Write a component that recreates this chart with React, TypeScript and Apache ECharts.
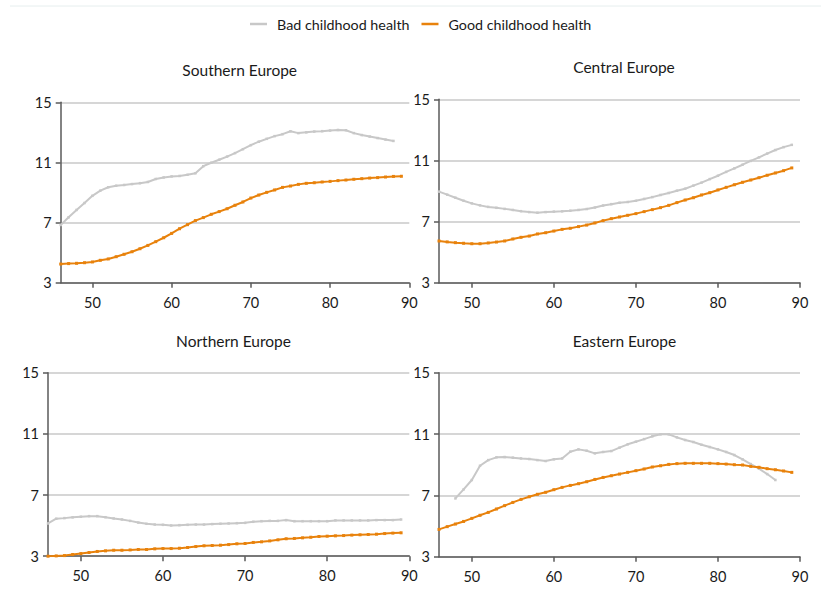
import React, { useEffect, useRef } from "react";
import * as echarts from "echarts";

// Ages (x values)
const ages = [
  46, 47, 48, 49, 50, 51, 52, 53, 54, 55, 56, 57, 58, 59, 60, 61, 62, 63, 64, 65, 66, 67,
  68, 69, 70, 71, 72, 73, 74, 75, 76, 77, 78, 79, 80, 81, 82, 83, 84, 85, 86, 87, 88, 89,
];
const xTicks = [50, 60, 70, 80, 90];
const yTicks = [3, 7, 11, 15];

const seriesNames = ["Bad childhood health", "Good childhood health"];
const regionTitles = ["Southern Europe", "Central Europe", "Northern Europe", "Eastern Europe"];

// Southern Europe
const southernBadAges = [
  46, 47, 48, 49, 50, 51, 52, 53, 54, 55, 56, 57, 58, 59, 60, 61, 62, 63, 64, 65, 66, 67,
  68, 69, 70, 71, 72, 73, 74, 75, 76, 77, 78, 79, 80, 81, 82, 83, 84, 85, 86, 87, 88,
];
const southernBad = [
  6.84, 7.35, 7.84, 8.3, 8.78, 9.12, 9.35, 9.45, 9.5, 9.56, 9.62, 9.7, 9.9, 10.0, 10.07,
  10.1, 10.18, 10.28, 10.75, 10.98, 11.18, 11.39, 11.62, 11.88, 12.15, 12.38, 12.57, 12.75,
  12.88, 13.07, 12.95, 13.0, 13.05, 13.08, 13.12, 13.16, 13.14, 12.95, 12.82, 12.72, 12.62,
  12.52, 12.43,
];
const southernGood = [
  4.24, 4.27, 4.29, 4.33, 4.38, 4.49, 4.58, 4.73, 4.89, 5.06, 5.26, 5.48, 5.73, 5.99, 6.28,
  6.59, 6.86, 7.13, 7.33, 7.55, 7.73, 7.92, 8.15, 8.37, 8.63, 8.83, 9.01, 9.17, 9.34, 9.43,
  9.54, 9.61, 9.65, 9.7, 9.74, 9.79, 9.83, 9.88, 9.92, 9.96, 9.99, 10.03, 10.07, 10.08,
];

// Central Europe
const centralBad = [
  8.96, 8.76, 8.56, 8.36, 8.19, 8.06, 7.96, 7.9, 7.83, 7.76, 7.68, 7.62, 7.58, 7.62, 7.65,
  7.67, 7.71, 7.76, 7.82, 7.92, 8.05, 8.14, 8.23, 8.28, 8.36, 8.48, 8.6, 8.74, 8.87, 9.02,
  9.15, 9.35, 9.55, 9.78, 10.0, 10.25, 10.48, 10.72, 10.97, 11.2, 11.45, 11.68, 11.87, 12.02,
];
const centralGood = [
  5.73, 5.67, 5.62, 5.58, 5.55, 5.55, 5.6, 5.66, 5.73, 5.86, 5.97, 6.05, 6.19, 6.27, 6.38,
  6.49, 6.56, 6.67, 6.77, 6.91, 7.06, 7.19, 7.3, 7.41, 7.52, 7.65, 7.78, 7.91, 8.06, 8.24,
  8.41, 8.56, 8.74, 8.89, 9.07, 9.24, 9.41, 9.57, 9.72, 9.87, 10.03, 10.18, 10.33, 10.51,
];

// Northern Europe
const northernBad = [
  5.14, 5.45, 5.49, 5.54, 5.58, 5.62, 5.62, 5.55, 5.47, 5.4, 5.31, 5.2, 5.12, 5.07, 5.05,
  5.01, 5.03, 5.05, 5.07, 5.07, 5.1, 5.12, 5.14, 5.16, 5.18, 5.25, 5.29, 5.31, 5.31, 5.36,
  5.29, 5.29, 5.29, 5.29, 5.29, 5.34, 5.34, 5.34, 5.34, 5.34, 5.36, 5.36, 5.36, 5.4,
];
const northernGood = [
  3.0, 3.02, 3.04, 3.11, 3.17, 3.24, 3.31, 3.35, 3.39, 3.39, 3.41, 3.44, 3.44, 3.48, 3.5,
  3.5, 3.52, 3.57, 3.63, 3.68, 3.7, 3.72, 3.76, 3.81, 3.83, 3.9, 3.94, 4.0, 4.07, 4.14,
  4.16, 4.2, 4.24, 4.29, 4.31, 4.33, 4.35, 4.38, 4.4, 4.42, 4.44, 4.48, 4.51, 4.53,
];

// Eastern Europe
const easternBadAges = [
  48, 49, 50, 51, 52, 53, 54, 55, 56, 57, 58, 59, 60, 61, 62, 63, 64, 65, 66, 67, 68, 69,
  70, 71, 72, 73, 74, 75, 76, 77, 78, 79, 80, 81, 82, 83, 84, 85, 86, 87,
];
const easternBad = [
  6.8, 7.39, 8.0, 8.93, 9.3, 9.48, 9.5, 9.46, 9.41, 9.37, 9.3, 9.24, 9.35, 9.41, 9.85, 10.0,
  9.91, 9.74, 9.83, 9.89, 10.11, 10.33, 10.5, 10.67, 10.85, 10.98, 10.98, 10.78, 10.61,
  10.48, 10.3, 10.15, 10.0, 9.83, 9.63, 9.35, 9.04, 8.74, 8.39, 8.0,
];
const easternGood = [
  4.78, 4.96, 5.13, 5.3, 5.5, 5.7, 5.89, 6.11, 6.33, 6.54, 6.74, 6.91, 7.07, 7.2, 7.37,
  7.52, 7.65, 7.76, 7.89, 8.04, 8.17, 8.28, 8.39, 8.5, 8.61, 8.72, 8.85, 8.93, 9.02, 9.07,
  9.09, 9.09, 9.09, 9.09, 9.07, 9.04, 9.0, 8.98, 8.89, 8.83, 8.74, 8.67, 8.59, 8.5,
];

const GRAY = "#c8c8c8";
const ORANGE = "#e8820c";
const AXIS = "#5a5a5a";
const FONT = "Lato, 'Open Sans', sans-serif";

const pair = (xs: number[], ys: number[]) => ys.map((v, i) => [xs[i], v]);

export default function App() {
  const ref = useRef<HTMLDivElement>(null);
  useEffect(() => {
    if (!ref.current) return;
    const chart = echarts.init(ref.current, null, { renderer: "svg" });

    const grids = [
      { left: 60.7, top: 102.3, width: 348.6, height: 180.4 },
      { left: 439, top: 99.3, width: 361, height: 183.4 },
      { left: 48, top: 372.7, width: 361.3, height: 183.5 },
      { left: 439, top: 372.7, width: 361, height: 184 },
    ];
    const titlePos = [
      { left: 234.7, top: 57 },
      { left: 619, top: 54 },
      { left: 228.5, top: 328 },
      { left: 619.5, top: 328 },
    ];
    const badData = [
      pair(southernBadAges, southernBad),
      pair(ages, centralBad),
      pair(ages, northernBad),
      pair(easternBadAges, easternBad),
    ];
    const goodData = [
      pair(ages, southernGood),
      pair(ages, centralGood),
      pair(ages, northernGood),
      pair(ages, easternGood),
    ];

    const series: any[] = [];
    for (let i = 0; i < 4; i++) {
      series.push({
        name: seriesNames[0],
        type: "line",
        xAxisIndex: i,
        yAxisIndex: i,
        data: badData[i],
        symbol: "rect",
        symbolSize: 2.5,
        showSymbol: true,
        lineStyle: { color: GRAY, width: 2 },
        itemStyle: { color: GRAY },
        z: 2,
      });
      series.push({
        name: seriesNames[1],
        type: "line",
        xAxisIndex: i,
        yAxisIndex: i,
        data: goodData[i],
        symbol: "rect",
        symbolSize: 3,
        showSymbol: true,
        lineStyle: { color: ORANGE, width: 2 },
        itemStyle: { color: ORANGE },
        z: 3,
      });
    }

    chart.setOption({
      animation: false,
      backgroundColor: "#ffffff",
      textStyle: { fontFamily: FONT },
      title: regionTitles.map((t, i) => ({
        text: t,
        left: titlePos[i].left,
        top: titlePos[i].top,
        textAlign: "center",
        textStyle: { fontFamily: FONT, fontSize: 15.5, fontWeight: "normal", color: "#1a1a1a" },
      })),
      legend: {
        top: 12,
        left: 245,
        icon: "rect",
        itemWidth: 17,
        itemHeight: 2.5,
        itemGap: 12,
        data: [
          { name: seriesNames[0], itemStyle: { color: GRAY } },
          { name: seriesNames[1], itemStyle: { color: ORANGE } },
        ],
        textStyle: { fontFamily: FONT, fontSize: 14.3, color: "#1a1a1a", padding: [0, 0, 0, 5] },
      },
      graphic: [
        {
          type: "line",
          shape: { x1: 10, y1: 6, x2: 821, y2: 6 },
          style: { stroke: "#e6eeee", lineWidth: 1 },
          silent: true,
        },
      ],
      grid: grids,
      xAxis: grids.map((_, i) => ({
        type: "value",
        gridIndex: i,
        min: 46,
        max: 90,
        axisLine: { show: true, lineStyle: { color: AXIS, width: 1.5 } },
        axisTick: {
          show: true,
          customValues: xTicks,
          length: 5,
          inside: false,
          lineStyle: { color: AXIS, width: 1.5 },
        },
        axisLabel: {
          customValues: xTicks,
          fontFamily: FONT,
          fontSize: 14.5,
          color: "#1a1a1a",
          margin: 12,
        },
        splitLine: { show: false },
      })),
      yAxis: grids.map((_, i) => ({
        type: "value",
        gridIndex: i,
        min: 3,
        max: 15,
        axisLine: { show: true, lineStyle: { color: AXIS, width: 1.5 } },
        axisTick: {
          show: true,
          customValues: yTicks,
          length: 5,
          lineStyle: { color: AXIS, width: 1.5 },
        },
        axisLabel: {
          customValues: yTicks,
          fontFamily: FONT,
          fontSize: 14.5,
          color: "#1a1a1a",
          margin: 9,
        },
        splitLine: { show: true, lineStyle: { color: GRAY, width: 1.5 } },
      })),
      series,
    });
    return () => chart.dispose();
  }, []);

  return (
    <div
      ref={ref}
      style={{ position: "fixed", left: 0, top: 0, width: 821, height: 597, background: "#fff" }}
    />
  );
}
